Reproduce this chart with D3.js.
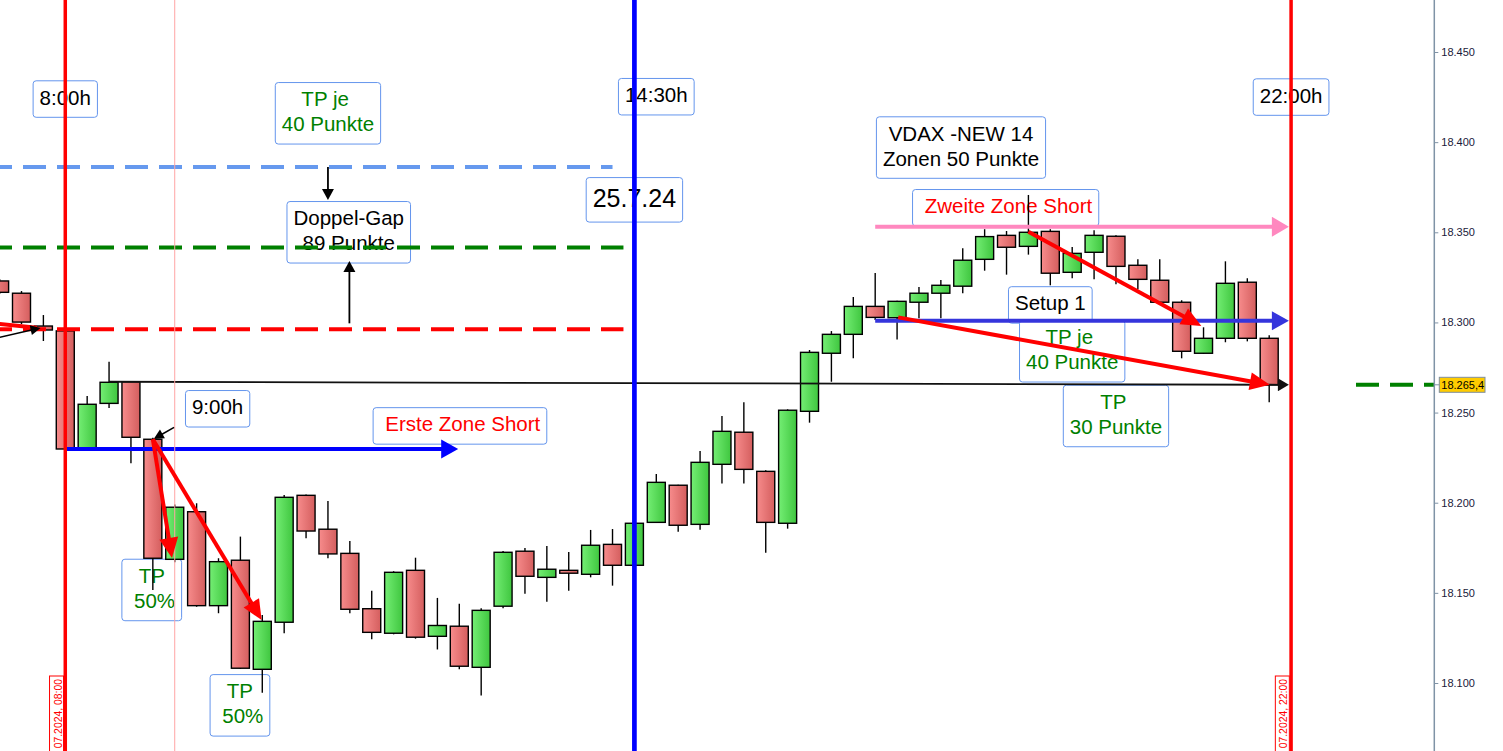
<!DOCTYPE html>
<html><head><meta charset="utf-8">
<script src="https://cdn.jsdelivr.net/npm/d3@7/dist/d3.min.js"></script>
<style>html,body{margin:0;padding:0;background:#fff;overflow:hidden}</style>
</head><body>
<svg id="chart" width="1503" height="751"></svg>
<script>
// 15-minute candles, 25.07.2024; index 3 = 08:00, 29 = 14:30, 59 = 22:00
const opens  = [18323.0,18316.2,18298.0,18295.3,18230.5,18255.1,18267.1,18235.2,18168.6,18195.0,
                18142.9,18168.1,18107.6,18133.7,18204.1,18185.3,18171.9,18141.2,18127.6,18162.5,
                18125.9,18131.5,18108.7,18142.6,18173.1,18158.6,18162.5,18160.3,18176.9,18165.3,
                18189.1,18209.7,18188.0,18221.3,18239.1,18217.4,18188.6,18250.7,18282.9,18293.4,
                18308.9,18302.6,18311.2,18316.2,18320.1,18335.0,18348.3,18342.2,18350.5,18327.8,
                18338.9,18347.8,18331.7,18323.4,18311.2,18282.9,18291.2,18322.3,18291.2];
const highs  = [18324.1,18317.4,18304.1,18296.4,18259.2,18278.2,18267.5,18236.0,18199.0,18199.7,
                18169.2,18181.2,18137.7,18204.3,18204.5,18201.0,18178.8,18151.2,18162.0,18169.5,
                18147.2,18143.9,18141.4,18173.2,18174.9,18176.0,18172.7,18184.9,18185.4,18189.0,
                18215.9,18210.0,18228.7,18248.1,18255.7,18218.0,18251.8,18284.7,18295.2,18314.1,
                18327.4,18312.0,18319.7,18323.5,18341.2,18351.7,18350.7,18370.7,18351.7,18341.8,
                18351.1,18348.3,18335.0,18335.0,18312.3,18297.3,18333.9,18324.5,18292.9];
const lows   = [18315.8,18299.1,18289.7,18229.6,18230.0,18252.5,18221.9,18151.6,18167.0,18142.3,
                18138.7,18107.8,18094.6,18127.6,18180.3,18169.2,18138.7,18124.2,18127.0,18124.6,
                18118.6,18107.6,18093.1,18141.4,18149.5,18145.1,18151.2,18158.6,18154.0,18165.0,
                18189.0,18183.9,18185.0,18210.6,18210.6,18172.3,18185.6,18244.4,18267.1,18280.1,
                18301.4,18290.6,18302.3,18302.3,18316.2,18328.7,18326.5,18337.6,18320.6,18324.5,
                18323.9,18321.2,18318.4,18311.0,18280.1,18282.5,18289.0,18289.5,18255.7];
const closes = [18316.7,18300.2,18295.8,18229.8,18254.6,18266.8,18236.3,18169.2,18197.5,18142.9,
                18167.3,18108.2,18134.2,18203.0,18184.3,18171.6,18140.9,18128.1,18161.4,18125.4,
                18131.9,18109.3,18140.3,18172.5,18159.2,18163.1,18160.9,18176.4,18165.3,18188.6,
                18211.3,18187.5,18222.4,18239.6,18218.5,18189.1,18251.3,18283.4,18293.4,18308.9,
                18302.8,18311.7,18316.2,18320.6,18334.5,18347.6,18341.7,18350.0,18327.3,18338.3,
                18348.3,18331.1,18323.9,18311.2,18284.0,18291.2,18321.7,18291.2,18265.4];
const priceTicks = [18100,18150,18200,18250,18300,18350,18400,18450];
const lastPrice = 18265.4;

// vertical time markers (candle index)
const timeMarkers = [
  {idx: 8,  color: "#ffa4a4", w: 1},
  {idx: 3,  color: "#ff0000", w: 3.5, stamp: "07.2024, 08:00"},
  {idx: 29, color: "#0000ff", w: 4.7},
  {idx: 59, color: "#ff0000", w: 3.5, stamp: "07.2024, 22:00"}
];
// dashed price levels
const levels = [
  {price: 18386.2, from: -1, to: 28.0, color: "#6699ee"},
  {price: 18341.5, from: -1, to: 28.5, color: "#008000"},
  {price: 18296.2, from: -1, to: 28.5, color: "#ff0000"}
];
// arrows: [idx1, price1, idx2, price2]
const zoneArrows = [
  {p: [3.05, 18229.8, 20.95, 18229.8], color: "#0000ff", w: 4, hl: 17, hw: 19},
  {p: [40, 18353.1, 58.9, 18353.1], color: "#ff88bf", w: 4, hl: 17, hw: 20},
  {p: [40, 18301.0, 58.9, 18301.0], color: "#3535dc", w: 4, hl: 17, hw: 19},
  {p: [5.0, 18267.1, 58.9, 18265.4], color: "#111111", w: 1.8, hl: 11, hw: 13}
];
const tradeArrows = [
  {p: [-1, 18300.5, 1.7, 18297.0], color: "#ff0000", w: 4, hl: 0},
  {p: [-1, 18289.0, 1.87, 18296.9], color: "#000000", w: 1.6, hl: 10, hw: 10},
  {p: [7.97, 18241.8, 7.04, 18235.4], color: "#000000", w: 1.6, hl: 10, hw: 10},
  {p: [7.0, 18235.2, 7.875, 18169.4], color: "#ff0000", w: 4, hl: 20, hw: 19},
  {p: [7.0, 18235.2, 11.97, 18134.9], color: "#ff0000", w: 4, hl: 20, hw: 18},
  {p: [47.0, 18350.3, 54.9, 18298.0], color: "#ff0000", w: 4, hl: 20, hw: 18},
  {p: [41.05, 18302.8, 58.03, 18265.4], color: "#ff0000", w: 4, hl: 20, hw: 18},
  {p: [15.0, 18386.2, 15.0, 18367.9], color: "#000000", w: 1.8, hl: 11, hw: 12},
  {p: [15.98, 18299.5, 15.98, 18334.1], color: "#000000", w: 1.8, hl: 11, hw: 12}
];
const labels = [
  {lines: ["8:00h"], color: "#000", at: [3, 18423.9]},
  {lines: ["TP je ", "40 Punkte"], color: "#008000", at: [15, 18416.0]},
  {lines: ["Doppel-Gap", "89 Punkte"], color: "#000", at: [15.95, 18350.0]},
  {lines: ["14:30h"], color: "#000", at: [30, 18425.2]},
  {lines: ["25.7.24"], color: "#000", at: [29, 18368.0], size: 25},
  {lines: ["22:00h"], color: "#000", at: [59, 18425.0]},
  {lines: ["VDAX -NEW 14", "Zonen 50 Punkte"], color: "#000", at: [43.92, 18397.0]},
  {lines: [" Zweite Zone Short"], color: "#ff0000", at: [45.96, 18363.6]},
  {lines: ["Setup 1"], color: "#000", at: [48, 18309.7]},
  {lines: ["TP je ", "40 Punkte"], color: "#008000", at: [49, 18284.0]},
  {lines: ["TP ", "30 Punkte"], color: "#008000", at: [51, 18248.1]},
  {lines: ["9:00h"], color: "#000", at: [9.96, 18252.1]},
  {lines: [" Erste Zone Short"], color: "#ff0000", at: [21.03, 18242.6]},
  {lines: ["TP", " 50%"], color: "#008000", at: [6.95, 18151.6]},
  {lines: ["TP", " 50%"], color: "#008000", at: [10.98, 18087.6]}
];

const W = 1503, H = 751, axisX = 1434.3;
const FONT = "'Liberation Sans', Arial, Helvetica, sans-serif";
const x = d3.scaleLinear().domain([1, 58]).range([21.5, 1269.2]);
const y = d3.scaleLinear().domain([18100, 18450]).range([683, 52]);
const de = d3.formatLocale({decimal: ",", thousands: ".", grouping: [3], currency: ["", "€"]});

const svg = d3.select("#chart");
svg.append("rect").attr("width", W).attr("height", H).attr("fill", "#fff");
const defs = svg.append("defs");
function grad(id, c1, c2) {
  const g = defs.append("linearGradient").attr("id", id).attr("x1", 0).attr("x2", 1).attr("y1", 0).attr("y2", 0);
  g.append("stop").attr("offset", 0).attr("stop-color", c1);
  g.append("stop").attr("offset", 1).attr("stop-color", c2);
}
grad("gRed", "#f78c8c", "#d45e5e");
grad("gGreen", "#74ee74", "#3fc63f");
defs.append("clipPath").attr("id", "plotClip").append("rect").attr("width", axisX).attr("height", H);

const plot = svg.append("g").attr("clip-path", "url(#plotClip)");

// label boxes (bottom layer)
const gLab = plot.append("g");
labels.forEach(l => {
  const fs = l.size || 20.5, lh = fs * 1.22;
  const cx = x(l.at[0]), cy = y(l.at[1]);
  const g = gLab.append("g");
  const rect = g.append("rect");
  const n = l.lines.length;
  let maxW = 0;
  l.lines.forEach((t, k) => {
    const tx = g.append("text").attr("x", cx)
      .attr("y", cy + (k - (n - 1) / 2) * lh + fs * 0.27)
      .attr("text-anchor", "middle").attr("font-family", FONT).attr("font-size", fs)
      .attr("fill", l.color).style("white-space", "pre").text(t);
    maxW = Math.max(maxW, tx.node().getComputedTextLength());
  });
  const bw = maxW + 13, bh = n * lh + fs * 0.56;
  rect.attr("x", cx - bw / 2).attr("y", cy - bh / 2).attr("width", bw).attr("height", bh)
    .attr("rx", 3).attr("fill", "#fff").attr("stroke", "#6495ed").attr("stroke-width", 1);
});

// candles
const candles = plot.append("g");
opens.forEach((o, i) => {
  const c = closes[i], cx = x(i);
  const up = c >= o;
  candles.append("line").attr("x1", cx).attr("x2", cx).attr("y1", y(highs[i])).attr("y2", y(lows[i]))
    .attr("stroke", "#000").attr("stroke-width", 1.4);
  const top = y(Math.max(o, c)), bot = y(Math.min(o, c));
  candles.append("rect").attr("x", cx - 9).attr("width", 18).attr("y", top).attr("height", Math.max(1.5, bot - top))
    .attr("fill", up ? "url(#gGreen)" : "url(#gRed)").attr("stroke", "#000").attr("stroke-width", 1.4);
});

// dashed levels
levels.forEach(l => {
  plot.append("line").attr("x1", x(l.from)).attr("x2", x(l.to)).attr("y1", y(l.price)).attr("y2", y(l.price))
    .attr("stroke", l.color).attr("stroke-width", 4).attr("stroke-dasharray", "23,11")
    .attr("stroke-dashoffset", 11 + x(l.from));
});

function arrow(g, a) {
  const [i1, p1, i2, p2] = a.p;
  const x1 = x(i1), y1 = y(p1), x2 = x(i2), y2 = y(p2);
  const dx = x2 - x1, dy = y2 - y1, L = Math.hypot(dx, dy), ux = dx / L, uy = dy / L;
  const hl = a.hl || 0;
  g.append("line").attr("x1", x1).attr("y1", y1)
    .attr("x2", x2 - ux * hl * 0.6).attr("y2", y2 - uy * hl * 0.6)
    .attr("stroke", a.color).attr("stroke-width", a.w);
  if (hl > 0) {
    const bx = x2 - ux * hl, by = y2 - uy * hl, hw = a.hw / 2;
    g.append("path").attr("d", `M${x2},${y2}L${bx - uy * hw},${by + ux * hw}L${bx + uy * hw},${by - ux * hw}Z`)
      .attr("fill", a.color);
  }
}
const gZones = plot.append("g");
zoneArrows.forEach(a => arrow(gZones, a));

// vertical time markers
timeMarkers.forEach(m => {
  plot.append("line").attr("x1", x(m.idx)).attr("x2", x(m.idx)).attr("y1", 0).attr("y2", H)
    .attr("stroke", m.color).attr("stroke-width", m.w);
});

const gTrades = plot.append("g");
tradeArrows.forEach(a => arrow(gTrades, a));

// rotated timestamps
timeMarkers.filter(m => m.stamp).forEach(m => {
  const right = x(m.idx) - m.w / 2;
  plot.append("rect").attr("x", right - 14).attr("y", 676).attr("width", 14).attr("height", 100)
    .attr("fill", "#fff").attr("stroke", "#ff0000").attr("stroke-width", 1);
  plot.append("text").attr("transform", `translate(${right - 2},679) rotate(-90)`)
    .attr("text-anchor", "end").attr("font-family", FONT).attr("font-size", 10.4)
    .attr("fill", "#ff0000").text(m.stamp);
});

// last price dashed marker in right margin
svg.append("line").attr("x1", 1356).attr("x2", axisX).attr("y1", y(lastPrice)).attr("y2", y(lastPrice))
  .attr("stroke", "#008000").attr("stroke-width", 4).attr("stroke-dasharray", "23,11");

// price axis
svg.append("line").attr("x1", axisX).attr("x2", axisX).attr("y1", 0).attr("y2", H)
  .attr("stroke", "#7f93a6").attr("stroke-width", 1.5);
const ax = svg.append("g").attr("transform", `translate(${axisX},0)`)
  .call(d3.axisRight(y).tickValues(priceTicks).tickSize(4).tickPadding(3).tickFormat(de.format(",")));
ax.select(".domain").remove();
ax.selectAll(".tick line").attr("stroke", "#7f93a6");
ax.selectAll(".tick text").attr("font-family", FONT).attr("font-size", 11).attr("fill", "#1a1a3a");

// last price badge
const yl = y(lastPrice);
svg.append("line").attr("x1", axisX).attr("x2", axisX + 5).attr("y1", yl).attr("y2", yl).attr("stroke", "#7f93a6");
svg.append("rect").attr("x", axisX + 5).attr("y", yl - 7.5).attr("width", 45.7).attr("height", 15)
  .attr("fill", "#ffcc00").attr("stroke", "#7f8fa0").attr("stroke-width", 1);
svg.append("text").attr("x", axisX + 7).attr("y", yl + 4).attr("font-family", FONT).attr("font-size", 11)
  .attr("fill", "#000").text(de.format(",.1f")(lastPrice));
</script>
</body></html>
